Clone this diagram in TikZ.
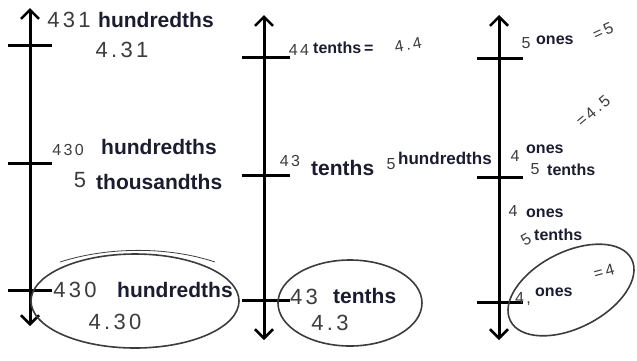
\documentclass[tikz,border=0pt]{standalone}
\usepackage{fontspec}
\setmainfont{Liberation Sans}
\usetikzlibrary{arrows.meta}
\definecolor{hand}{HTML}{3C3C3C}
\definecolor{typed}{HTML}{1C1C30}
\tikzset{
  axis/.style={line width=3pt, black, {Straight Barb[length=9pt,width=18pt,line width=2.6pt]}-{Straight Barb[length=9pt,width=18pt,line width=2.6pt]}},
  tick/.style={line width=3pt, black},
  hw/.style={inner sep=0pt, text=hand, font=\fontsize{22}{22}\selectfont\addfontfeature{LetterSpace=15}},
  hws/.style={inner sep=0pt, text=hand, font=\fontsize{16}{16}\selectfont\addfontfeature{LetterSpace=15}},
  ty/.style={inner sep=0pt, anchor=west, text=typed, font=\bfseries\fontsize{21}{21}\selectfont},
  tys/.style={inner sep=0pt, anchor=west, text=typed, font=\bfseries\fontsize{16}{16}\selectfont},
  loop/.style={draw=hand, line width=1.6pt}
}
\begin{document}
\begin{tikzpicture}[x=1pt,y=-1pt]
\useasboundingbox (0,0) rectangle (637,360);
% ---------- axis 1 ----------
\coordinate (a1t) at (30,8);
\coordinate (a1b) at (30,326);
\draw[axis] (a1b) -- (a1t);
\coordinate (t1aL) at (8,45);  \coordinate (t1aR) at (52,45);
\coordinate (t1bL) at (8,163); \coordinate (t1bR) at (52,163);
\coordinate (t1cL) at (8,290); \coordinate (t1cR) at (52,290);
\draw[tick] (t1aL) -- (t1aR);
\draw[tick] (t1bL) -- (t1bR);
\draw[tick] (t1cL) -- (t1cR);
\node[hw] (n431) at (69,20) {431};
\node[ty] (h1) at (98,20) {hundredths};
\node[hw] (v431) at (122,50) {4.31};
\node[hws] (n430a) at (68,150) {430};
\node[ty] (h2) at (101,147) {hundredths};
\node[hw] (n5a) at (80,180) {5};
\node[ty] (th1) at (96,182) {thousandths};
\node[hw] (n430b) at (75,290) {430};
\node[ty] (h3) at (117,290) {hundredths};
\node[hw] (v430) at (115,322) {4.30};
\draw[loop] (135,301) ellipse [x radius=104, y radius=47];
\draw[loop, line width=0.8pt] (60,262) .. controls (110,246) and (170,247) .. (215,262);
% ---------- axis 2 ----------
\coordinate (a2t) at (264,15);
\coordinate (a2b) at (264,340);
\draw[axis] (a2b) -- (a2t);
\coordinate (t2aL) at (242,57);  \coordinate (t2aR) at (290,57);
\coordinate (t2bL) at (242,175); \coordinate (t2bR) at (290,175);
\coordinate (t2cL) at (242,300); \coordinate (t2cR) at (290,300);
\draw[tick] (t2aL) -- (t2aR);
\draw[tick] (t2bL) -- (t2bR);
\draw[tick] (t2cL) -- (t2cR);
\node[hws] (n44) at (299,50) {44};
\node[tys] (te1) at (313,48) {tenths};
\node[tys] (eq1) at (364,49) {=};
\node[hws, rotate=10] (v44) at (408,45) {4.4};
\node[hws] (n43a) at (290,161) {43};
\node[ty] (te2) at (311,168) {tenths};
\node[hws] (n5b) at (391,164) {5};
\node[tys, font=\bfseries\fontsize{17}{17}\selectfont] (h4) at (398,158) {hundredths};
\node[hw] (n43b) at (304,297) {43};
\node[ty] (te3) at (333,296) {tenths};
\node[hw] (v43) at (330,323) {4.3};
\draw[loop] (350,303) ellipse [x radius=72, y radius=43];
% ---------- axis 3 ----------
\coordinate (a3t) at (499,15);
\coordinate (a3b) at (499,340);
\draw[axis] (a3b) -- (a3t);
\coordinate (t3aL) at (477,58);  \coordinate (t3aR) at (523,58);
\coordinate (t3bL) at (477,177); \coordinate (t3bR) at (523,177);
\coordinate (t3cL) at (477,302); \coordinate (t3cR) at (523,302);
\draw[tick] (t3aL) -- (t3aR);
\draw[tick] (t3bL) -- (t3bR);
\draw[tick] (t3cL) -- (t3cR);
\node[hws] (n5c) at (526,43) {5};
\node[tys] (o1) at (536,40) {ones};
\node[hws, rotate=25] (eq5) at (603,31) {=5};
\node[hws, rotate=40] (eq45) at (593,111) {=4.5};
\node[hws] (n4a) at (515,156) {4};
\node[tys] (o2) at (526,149) {ones};
\node[hws] (n5d) at (535,169) {5};
\node[tys] (te4) at (547,170) {tenths};
\node[hws] (n4b) at (513,211) {4};
\node[tys] (o3) at (526,213) {ones};
\node[hws, rotate=30] (n5e) at (526,240) {5};
\node[tys] (te5) at (534,235) {tenths};
\node[hws] (n4c) at (523,299) {4,};
\node[tys] (o4) at (535,292) {ones};
\node[hws, rotate=15] (eq4) at (604,272) {=4};
\draw[loop, rotate around={27:(571,290)}] (571,290) ellipse [x radius=68, y radius=38];
\end{tikzpicture}
\end{document}
